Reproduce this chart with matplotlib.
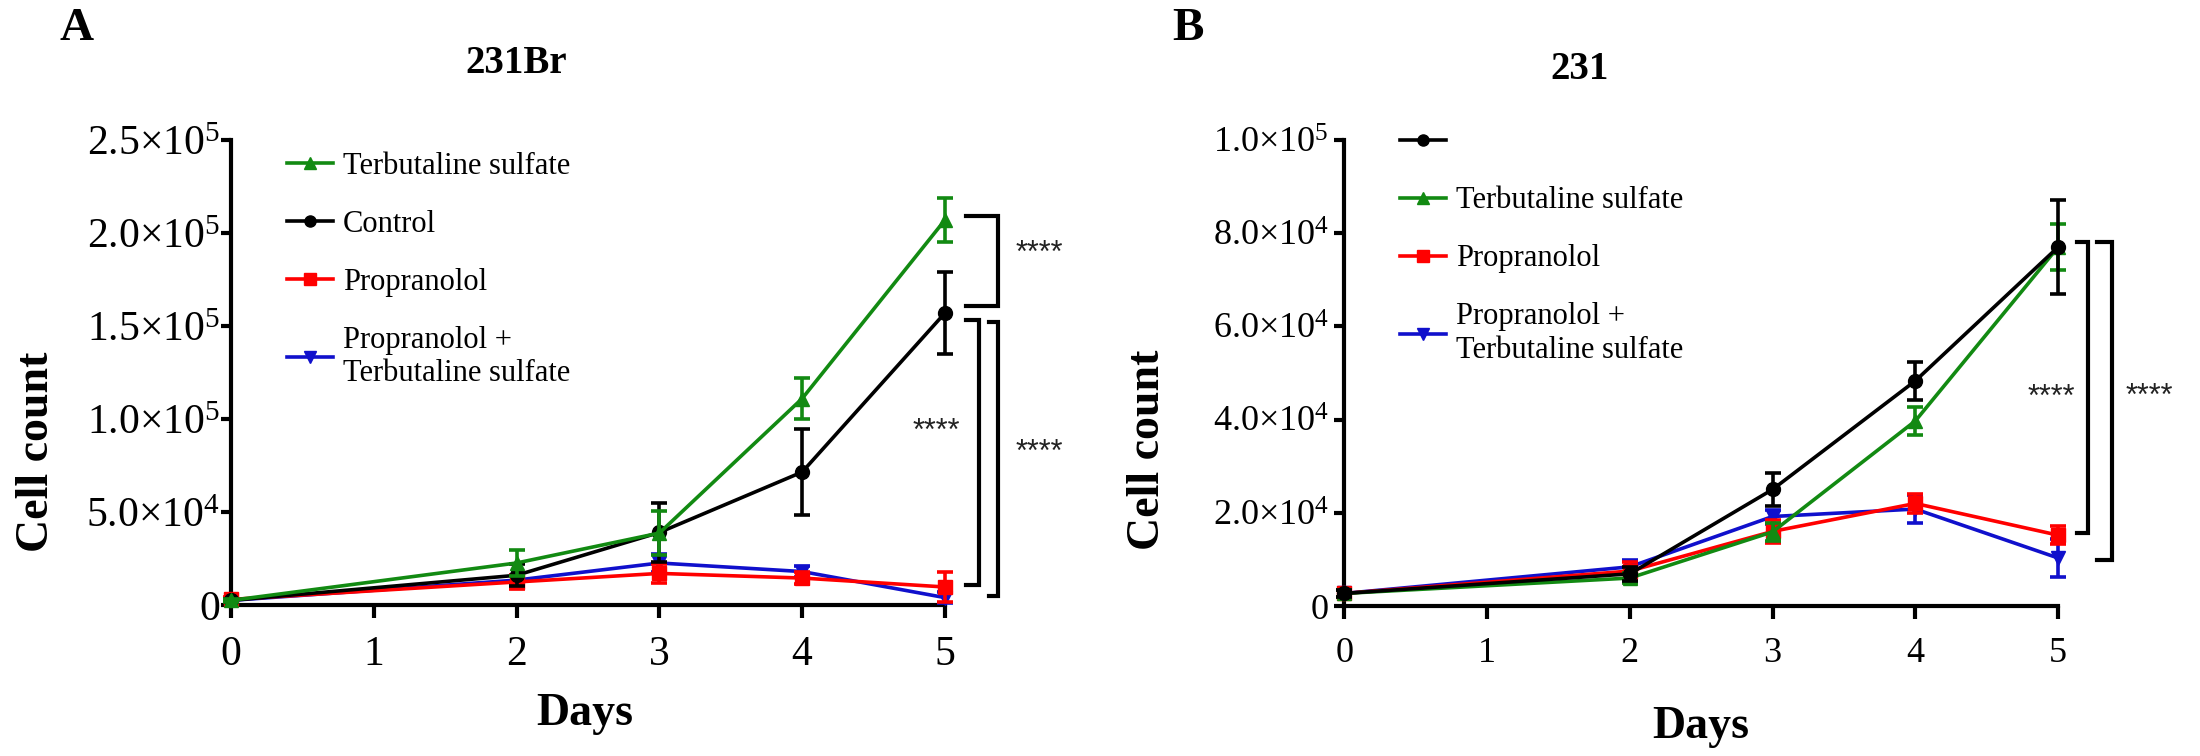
import matplotlib
matplotlib.use("Agg")
import matplotlib.pyplot as plt
from matplotlib.lines import Line2D

plt.rcParams['font.family'] = ['Liberation Serif', 'DejaVu Serif']
plt.rcParams['mathtext.fontset'] = 'custom'
plt.rcParams['mathtext.rm'] = 'Liberation Serif'

# Datos
dias = [0, 2, 3, 4, 5]

# Panel A (231Br)
terb_a = [2500, 22600, 38700, 111000, 207000]
terb_a_err = [1000, 7000, 12000, 11000, 12000]
ctrl_a = [2500, 16000, 39000, 71500, 157000]
ctrl_a_err = [1000, 6000, 16000, 23000, 22000]
prop_a = [3000, 12400, 17000, 14500, 9700]
prop_a_err = [1500, 4000, 5000, 3000, 8000]
pt_a = [2500, 13400, 22600, 18000, 4000]
pt_a_err = [1000, 3000, 5000, 3000, 3000]

# Panel B (231)
ctrl_b = [2700, 6900, 25000, 48300, 77000]
ctrl_b_err = [800, 1500, 3500, 4000, 10000]
terb_b = [2700, 6000, 15900, 39700, 77000]
terb_b_err = [800, 1000, 2000, 3000, 5000]
prop_b = [2700, 7500, 16000, 22000, 15200]
prop_b_err = [800, 2000, 2500, 2000, 2000]
pt_b = [2700, 8400, 19200, 20800, 10300]
pt_b_err = [800, 1500, 1500, 3000, 4000]

yticks_a = [0, 50000, 100000, 150000, 200000, 250000]
ylabels_a = ['0', r'$\mathregular{5.0{\times}10^{4}}$', r'$\mathregular{1.0{\times}10^{5}}$',
             r'$\mathregular{1.5{\times}10^{5}}$', r'$\mathregular{2.0{\times}10^{5}}$',
             r'$\mathregular{2.5{\times}10^{5}}$']
yticks_b = [0, 20000, 40000, 60000, 80000, 100000]
ylabels_b = ['0', r'$\mathregular{2.0{\times}10^{4}}$', r'$\mathregular{4.0{\times}10^{4}}$',
             r'$\mathregular{6.0{\times}10^{4}}$', r'$\mathregular{8.0{\times}10^{4}}$',
             r'$\mathregular{1.0{\times}10^{5}}$']

VERDE = '#128a12'
ROJO = '#ff0000'
AZUL = '#1010cc'
NEGRO = '#000000'

fig = plt.figure(figsize=(22, 7.56), dpi=100)
ax_a = fig.add_axes([0.105, 0.1997, 0.3245, 0.615])
ax_b = fig.add_axes([0.611, 0.1984, 0.3245, 0.6166])


# Funcion para dibujar una serie con barras de error
def serie(ax, y, err, color, marker, z):
    ax.errorbar(dias, y, yerr=err, color=color, marker=marker, markersize=10,
                linewidth=2.6, elinewidth=2.6, capsize=6, capthick=2.6,
                zorder=z, clip_on=False)


# Funcion para dibujar los corchetes de significancia
def corchete(ax, x, y1, y2, izq, stars_x, stars_y):
    ax.plot([izq, x, x, izq], [y1, y1, y2, y2], color='black', lw=3,
            clip_on=False, solid_joinstyle='miter')
    ax.text(stars_x, stars_y, '****', ha='center', va='center', fontsize=22,
            family='Liberation Sans', color='#222222', clip_on=False)


# Estilo de ejes tipo GraphPad
def estilo(ax, yticks, ylabels, ymax, ypad, tsize):
    ax.set_xlim(0, 5)
    ax.set_ylim(0, ymax)
    ax.spines['top'].set_visible(False)
    ax.spines['right'].set_visible(False)
    ax.spines['left'].set_linewidth(3)
    ax.spines['bottom'].set_linewidth(3)
    ax.set_xticks([0, 1, 2, 3, 4, 5])
    ax.set_yticks(yticks)
    ax.set_yticklabels(ylabels)
    ax.tick_params(axis='x', length=9, width=3, labelsize=tsize, pad=13)
    ax.tick_params(axis='y', length=7, width=3, labelsize=tsize, pad=ypad)
    ax.set_xlabel('Days', fontsize=33, fontweight='bold')
    ax.set_ylabel('Cell count', fontsize=33, fontweight='bold')


def leyenda(ax, handles, labels, y0):
    ax.legend(handles, labels, loc='upper left', bbox_to_anchor=(0.078, y0), frameon=False,
              fontsize=22, handlelength=1.5, handletextpad=0.35, labelspacing=0.95,
              borderpad=0, borderaxespad=0)


# ---------------- Panel A ----------------
serie(ax_a, pt_a, pt_a_err, AZUL, 'v', 3)
serie(ax_a, prop_a, prop_a_err, ROJO, 's', 4)
serie(ax_a, ctrl_a, ctrl_a_err, NEGRO, 'o', 5)
serie(ax_a, terb_a, terb_a_err, VERDE, '^', 6)
estilo(ax_a, yticks_a, ylabels_a, 250000, 1, 30)
ax_a.yaxis.set_label_coords(-0.242, 0.33)
ax_a.xaxis.set_label_coords(0.495, -0.19)

corchete(ax_a, 5.37, terb_a[4] + 2000, ctrl_a[4] + 4000, 5.15, 5.66, 189000)
corchete(ax_a, 5.24, ctrl_a[4] - 4000, prop_a[4] + 1300, 5.15, 4.94, 93000)
corchete(ax_a, 5.37, ctrl_a[4] - 5000, pt_a[4] + 1000, 5.31, 5.66, 82000)

h_a = [Line2D([], [], color=VERDE, marker='^', lw=2.6, markersize=8),
       Line2D([], [], color=NEGRO, marker='o', lw=2.6, markersize=8),
       Line2D([], [], color=ROJO, marker='s', lw=2.6, markersize=8),
       Line2D([], [], color=AZUL, marker='v', lw=2.6, markersize=8)]
l_a = ['Terbutaline sulfate', 'Control', 'Propranolol', 'Propranolol +\nTerbutaline sulfate']
leyenda(ax_a, h_a, l_a, 0.975)

ax_a.set_title('231Br', fontsize=28, fontweight='bold', pad=48, x=0.4)

# ---------------- Panel B ----------------
serie(ax_b, pt_b, pt_b_err, AZUL, 'v', 3)
serie(ax_b, prop_b, prop_b_err, ROJO, 's', 4)
serie(ax_b, terb_b, terb_b_err, VERDE, '^', 5)
serie(ax_b, ctrl_b, ctrl_b_err, NEGRO, 'o', 6)
estilo(ax_b, yticks_b, ylabels_b, 100000, 4, 26)
ax_b.yaxis.set_label_coords(-0.245, 0.335)
ax_b.xaxis.set_label_coords(0.5, -0.215)

corchete(ax_b, 5.21, ctrl_b[4] + 1000, prop_b[4] + 500, 5.13, 4.95, 44600)
corchete(ax_b, 5.38, ctrl_b[4] + 1000, pt_b[4] - 400, 5.27, 5.64, 44800)

h_b = [Line2D([], [], color=NEGRO, marker='o', lw=2.6, markersize=8),
       Line2D([], [], color=VERDE, marker='^', lw=2.6, markersize=8),
       Line2D([], [], color=ROJO, marker='s', lw=2.6, markersize=8),
       Line2D([], [], color=AZUL, marker='v', lw=2.6, markersize=8)]
l_b = ['', 'Terbutaline sulfate', 'Propranolol', 'Propranolol +\nTerbutaline sulfate']
leyenda(ax_b, h_b, l_b, 1.025)

ax_b.set_title('231', fontsize=28, fontweight='bold', pad=44, x=0.33)

# Letras de los paneles
fig.text(0.035, 0.962, 'A', fontsize=34, fontweight='bold', ha='center', va='center')
fig.text(0.54, 0.962, 'B', fontsize=34, fontweight='bold', ha='center', va='center')

fig.savefig('out.png', dpi=100)
